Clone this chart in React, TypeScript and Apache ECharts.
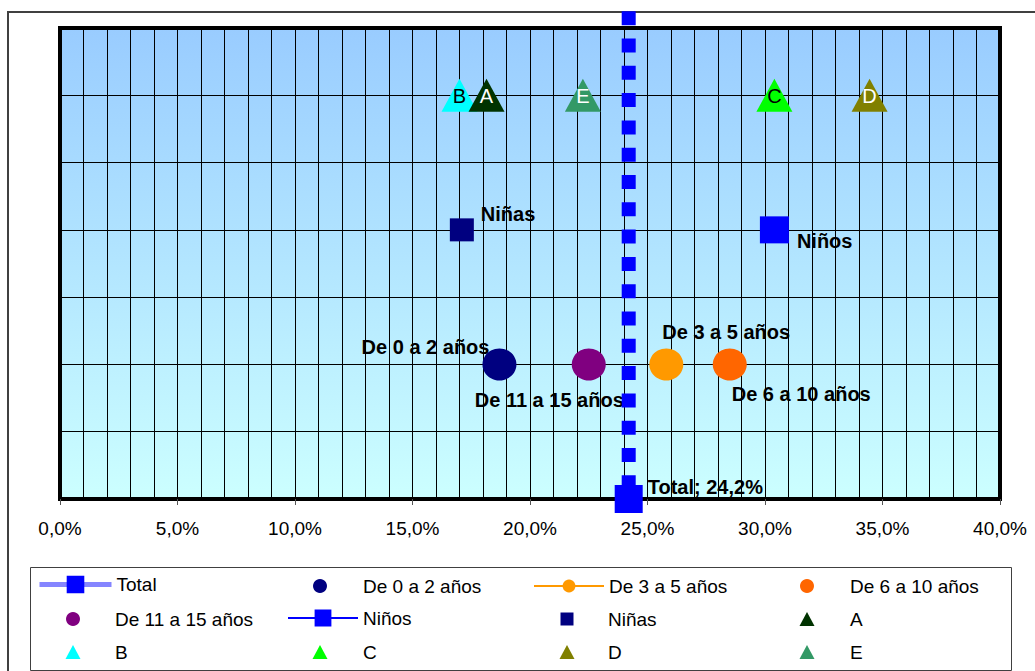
import React, { useEffect, useRef } from 'react';
import * as echarts from 'echarts';

// ---------- data ----------
const xTicks = [0, 5, 10, 15, 20, 25, 30, 35, 40];
const yLevels = [0, 1, 2, 3, 4, 5, 6, 7];

const totalName = 'Total';
const totalValue = 24.2;
const totalLineTop = 7.25;

const ageNames = ['De 0 a 2 años', 'De 3 a 5 años', 'De 6 a 10 años', 'De 11 a 15 años'];
const ageValues = [18.7, 25.8, 28.5, 22.5];
const ageLevel = 2;

const sexNames = ['Niños', 'Niñas'];
const sexValues = [30.4, 17.1];
const sexLevel = 4;

const groupNames = ['B', 'A', 'C', 'D', 'E'];
const groupValues = [17.0, 18.15, 30.4, 34.45, 22.25];
const groupLevel = 6;

const legendOrder = ['Total', 'De 0 a 2 años', 'De 3 a 5 años', 'De 6 a 10 años', 'De 11 a 15 años', 'Niños', 'Niñas', 'A', 'B', 'C', 'D', 'E'];

// ---------- styles ----------
const FONT = '"Liberation Sans", Arial, sans-serif';
const ageColors = ['#000080', '#FF9900', '#FF6600', '#800080'];
const ageLabelPos: any[] = [
  { position: 'left', offset: [12, -17] },
  { position: 'right', offset: [-26, -32] },
  { position: 'right', offset: [-20, 30] },
  { position: 'left', offset: [57, 36] },
];
const sexColors = ['#0000FF', '#000080'];
const sexSizes: any[] = [[29, 27], [24, 23]];
const sexLabelPos: any[] = [
  { position: 'right', offset: [3, 11] },
  { position: 'right', offset: [2, -16] },
];
const groupColors: Record<string, string> = { A: '#003300', B: '#00FFFF', C: '#00FF00', D: '#808000', E: '#339966' };
const groupText: Record<string, string> = { A: '#FFFFFF', B: '#000000', C: '#000000', D: '#FFFFFF', E: '#FFFFFF' };

const fmt = (v: number) => v.toFixed(1).replace('.', ',') + '%';

const boldLabel = { fontFamily: FONT, fontSize: 20, fontWeight: 'bold', color: '#000' };

const TRI = 'path://M0,14L7.5,0L15,14Z';
const SQ = 'path://M0,0L10,0L10,10L0,10Z';

export default function App() {
  const ref = useRef<HTMLDivElement>(null);
  useEffect(() => {
    if (!ref.current) return;
    const chart = echarts.init(ref.current, undefined, { renderer: 'svg' });

    const series: any[] = [];
    series.push({
      name: totalName,
      type: 'line',
      clip: false,
      z: 5,
      symbol: 'rect',
      symbolSize: 28,
      itemStyle: { color: '#0000FF', opacity: 1 },
      lineStyle: { color: '#0000FF', width: 14, type: [14, 13.3], cap: 'butt' },
      emphasis: { disabled: true },
      data: [
        { value: [totalValue, totalLineTop], symbol: 'none' },
        {
          value: [totalValue, 0],
          label: { show: true, position: 'right', offset: [0, -12], formatter: `${totalName}; ${fmt(totalValue)}`, ...boldLabel },
        },
      ],
    });

    ageNames.forEach((n, i) => {
      const isLine = i === 1;
      series.push({
        name: n,
        type: isLine ? 'line' : 'scatter',
        symbol: 'circle',
        symbolSize: [34, 32],
        itemStyle: { color: ageColors[i], opacity: 1 },
        lineStyle: { color: ageColors[i], width: 1 },
        emphasis: { disabled: true },
        label: { show: true, formatter: n, ...ageLabelPos[i], ...boldLabel },
        data: [[ageValues[i], ageLevel]],
      });
    });

    sexNames.forEach((n, i) => {
      const isLine = i === 0;
      series.push({
        name: n,
        type: isLine ? 'line' : 'scatter',
        symbol: 'rect',
        symbolSize: sexSizes[i],
        itemStyle: { color: sexColors[i], opacity: 1 },
        lineStyle: { color: sexColors[i], width: 1 },
        emphasis: { disabled: true },
        label: { show: true, formatter: n, ...sexLabelPos[i], ...boldLabel },
        data: [[sexValues[i], sexLevel]],
      });
    });

    groupNames.forEach((n, i) => {
      series.push({
        name: n,
        type: 'scatter',
        symbol: 'triangle',
        symbolSize: [36, 33],
        itemStyle: { color: groupColors[n], opacity: 1 },
        emphasis: { disabled: true },
        label: { show: true, position: 'inside', formatter: n, fontFamily: FONT, fontSize: 20, color: groupText[n], offset: [0, 1] },
        data: [[groupValues[i], groupLevel]],
      });
    });

    // legend layout: 4 columns, 3 rows
    const colLeft = [37, 287, 533, 769];
    const colWidth = [72, 70, 70, 76];
    const colIconCenter = [73, 320, 567, 807];
    const colTextStart = [115, 363, 608, 850];
    const rowY = [585, 618, 651];
    const legendIcon: Record<string, any> = {
      'Total': { h: 22, lineStyle: { color: '#8585FF', width: 5, type: 'solid' } },
      'De 0 a 2 años': { h: 14, icon: 'circle' },
      'De 3 a 5 años': { h: 16 },
      'De 6 a 10 años': { h: 14, icon: 'circle' },
      'De 11 a 15 años': { h: 14, icon: 'circle' },
      'Niños': { h: 21 },
      'Niñas': { h: 13, icon: SQ },
      'A': { h: 14, icon: TRI },
      'B': { h: 14, icon: TRI },
      'C': { h: 14, icon: TRI },
      'D': { h: 14, icon: TRI },
      'E': { h: 14, icon: TRI },
    };
    const legends = legendOrder.map((n, i) => {
      const col = i % 4;
      const row = Math.floor(i / 4);
      const cfg = legendIcon[n];
      const H = Math.max(cfg.h, 19);
      const l: any = {
        data: [n],
        top: rowY[row] - H / 2 + 1,
        padding: 0,
        itemHeight: cfg.h,
        itemGap: 0,
        selectedMode: false,
        textStyle: { fontFamily: FONT, fontSize: 19, color: '#000' },
      };
      if (cfg.icon) {
        const w = cfg.icon === TRI ? 15 : cfg.h;
        l.icon = cfg.icon;
        l.itemWidth = w;
        l.left = colIconCenter[col] - w / 2;
        const pad = colTextStart[col] - (colIconCenter[col] + w / 2 + 5);
        l.textStyle = { ...l.textStyle, padding: [0, 0, 0, pad] };
      } else {
        l.left = colLeft[col];
        l.itemWidth = colWidth[col];
      }
      if (cfg.lineStyle) l.lineStyle = cfg.lineStyle;
      return l;
    });

    chart.setOption({
      animation: false,
      backgroundColor: '#FFFFFF',
      grid: {
        left: 60,
        top: 28,
        right: 35,
        bottom: 172,
        show: true,
        borderColor: '#000',
        borderWidth: 4,
        backgroundColor: {
          type: 'linear', x: 0, y: 0, x2: 0, y2: 1,
          colorStops: [
            { offset: 0, color: '#99CCFF' },
            { offset: 1, color: '#CCFFFF' },
          ],
        },
      },
      xAxis: {
        type: 'value',
        min: xTicks[0],
        max: xTicks[xTicks.length - 1],
        interval: xTicks[1] - xTicks[0],
        axisLine: { show: true, onZero: false, lineStyle: { color: '#000', width: 4 } },
        axisTick: { show: true, length: 6, lineStyle: { color: '#555', width: 1 } },
        axisLabel: { fontFamily: FONT, fontSize: 19, color: '#000', margin: 20, formatter: (v: number) => fmt(v) },
        splitLine: { show: true, lineStyle: { color: '#000', width: 1 } },
        minorTick: { show: false, splitNumber: 5 },
        minorSplitLine: { show: true, lineStyle: { color: '#000', width: 1 } },
      },
      yAxis: {
        type: 'value',
        min: yLevels[0],
        max: yLevels[yLevels.length - 1],
        interval: 1,
        axisLine: { show: false },
        axisTick: { show: false },
        axisLabel: { show: false },
        splitLine: { show: true, lineStyle: { color: '#000', width: 1 } },
      },
      legend: legends,
      graphic: [
        { type: 'rect', silent: true, z: -10, shape: { x: 8, y: 12, width: 1100, height: 700 }, style: { fill: 'none', stroke: '#404040', lineWidth: 2 } },
        { type: 'rect', silent: true, z: -10, shape: { x: 30.5, y: 567.5, width: 981, height: 103 }, style: { fill: 'none', stroke: '#404040', lineWidth: 1 } },
      ],
      series,
    });
    return () => chart.dispose();
  }, []);
  return <div ref={ref} style={{ position: 'absolute', left: 0, top: 0, width: 1035, height: 671 }} />;
}
